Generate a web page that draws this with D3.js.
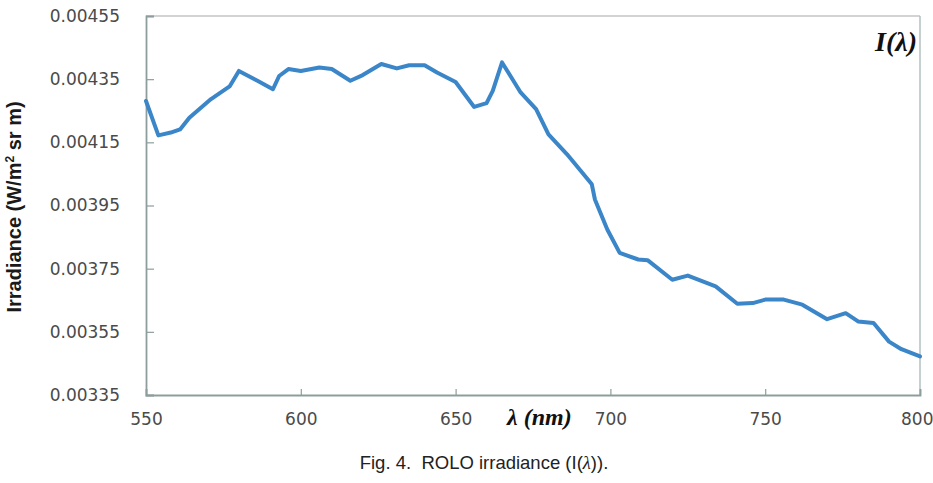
<!DOCTYPE html>
<html>
<head>
<meta charset="utf-8">
<script src="https://cdn.jsdelivr.net/npm/d3@7"></script>
<style>
  body { margin: 0; background: #fff; }
  svg { display: block; }
</style>
</head>
<body>
<svg id="chart" width="933" height="483"></svg>
<script>
// ROLO irradiance
const wavelength = [550, 554, 558, 561, 564, 571, 577, 580, 586, 591, 593, 596, 600, 606,
  610, 616, 620, 626, 631, 635, 640, 644, 650, 656, 660, 662, 665, 671, 676, 680, 686,
  694, 695, 699, 703, 709, 712, 720, 725, 734, 741, 746, 750, 756, 762, 770, 776, 780,
  785, 790, 794, 800];
const irradiance = [0.004281, 0.004172, 0.004181, 0.004191, 0.004228, 0.004287, 0.004327,
  0.004376, 0.004345, 0.004318, 0.004360, 0.004382, 0.004376, 0.004387, 0.004382,
  0.004345, 0.004363, 0.004398, 0.004384, 0.004394, 0.004394, 0.004371, 0.004341,
  0.004262, 0.004274, 0.004313, 0.004403, 0.004308, 0.004255, 0.004175, 0.004112,
  0.004017, 0.003969, 0.003874, 0.003800, 0.003779, 0.003777, 0.003715, 0.003728,
  0.003694, 0.003639, 0.003641, 0.003652, 0.003652, 0.003636, 0.003590, 0.003609,
  0.003583, 0.003578, 0.003519, 0.003495, 0.003472];
const xTicks = [550, 600, 650, 700, 750, 800];
const yTicks = [0.00335, 0.00355, 0.00375, 0.00395, 0.00415, 0.00435, 0.00455];

const svg = d3.select('#chart');
const m = { left: 146, top: 16, right: 13, bottom: 88 };
const W = 933 - m.left - m.right, H = 483 - m.top - m.bottom;
const g = svg.append('g').attr('transform', `translate(${m.left},${m.top})`);

const x = d3.scaleLinear().domain([550, 800]).range([0, W]);
const y = d3.scaleLinear().domain([0.00335, 0.00455]).range([H, 0]);

// frame: top/right light, left/bottom axis darker
g.append('line').attr('x1', 0).attr('x2', W).attr('y1', 0).attr('y2', 0).attr('stroke', '#c4c4c4').attr('stroke-width', 1.5);
g.append('line').attr('x1', W).attr('x2', W).attr('y1', 0).attr('y2', H).attr('stroke', '#b4c0c0').attr('stroke-width', 1.5);

const yAxis = g.append('g')
  .call(d3.axisLeft(y).tickValues(yTicks).tickFormat(d3.format('.5f')).tickSize(-8).tickPadding(26));
const xAxis = g.append('g').attr('transform', `translate(0,${H})`)
  .call(d3.axisBottom(x).tickValues(xTicks).tickFormat(d3.format('d')).tickSize(-6).tickPadding(24));

[yAxis, xAxis].forEach(a => {
  a.select('.domain').attr('stroke', '#8d9d9d').attr('stroke-width', 1.8);
  a.selectAll('.tick line').attr('stroke', '#8d9d9d').attr('stroke-width', 1.2);
  a.selectAll('.tick text').attr('fill', '#4a4a4a').attr('font-family', 'DejaVu Sans').attr('font-size', 17);
});
xAxis.selectAll('.tick text').attr('dy', '0.35em');
// last label sits at the right edge, keep it inside the page
xAxis.selectAll('.tick text').filter(d => d === 800).attr('text-anchor', 'end').attr('x', 13);

const line = d3.line().x((d, i) => x(wavelength[i])).y(d => y(d));
g.append('path').datum(irradiance)
  .attr('d', line).attr('fill', 'none')
  .attr('stroke', '#3a86c8').attr('stroke-width', 4)
  .attr('stroke-linejoin', 'round').attr('stroke-linecap', 'round');

// y title
const yt = svg.append('text').attr('transform', 'translate(21,207) rotate(-90)')
  .attr('text-anchor', 'middle').attr('font-family', 'Liberation Sans').attr('font-weight', 'bold')
  .attr('font-size', 20).attr('fill', '#1a1a1a');
yt.append('tspan').text('Irradiance  (W/m');
yt.append('tspan').attr('dy', -7).attr('font-size', 12).text('2');
yt.append('tspan').attr('dy', 7).text(' sr m)');

svg.append('text').attr('x', 917).attr('y', 51).attr('text-anchor', 'end')
  .attr('font-family', 'Liberation Serif').attr('font-style', 'italic').attr('font-weight', 'bold')
  .attr('font-size', 28).attr('fill', '#111').text('I(λ)');

svg.append('text').attr('x', 507).attr('y', 425)
  .attr('font-family', 'Liberation Serif').attr('font-style', 'italic').attr('font-weight', 'bold')
  .attr('font-size', 24).attr('fill', '#111').text('λ (nm)');

const cap = svg.append('text').attr('x', 484).attr('y', 469).attr('text-anchor', 'middle')
  .attr('font-family', 'Liberation Sans').attr('font-size', 18.5).attr('fill', '#222');
cap.append('tspan').text('Fig. 4.\u00a0\u00a0ROLO irradiance (I(');
cap.append('tspan').attr('font-family', 'Liberation Serif').attr('font-style', 'italic').text('λ');
cap.append('tspan').text(')).');
</script>
</body>
</html>
